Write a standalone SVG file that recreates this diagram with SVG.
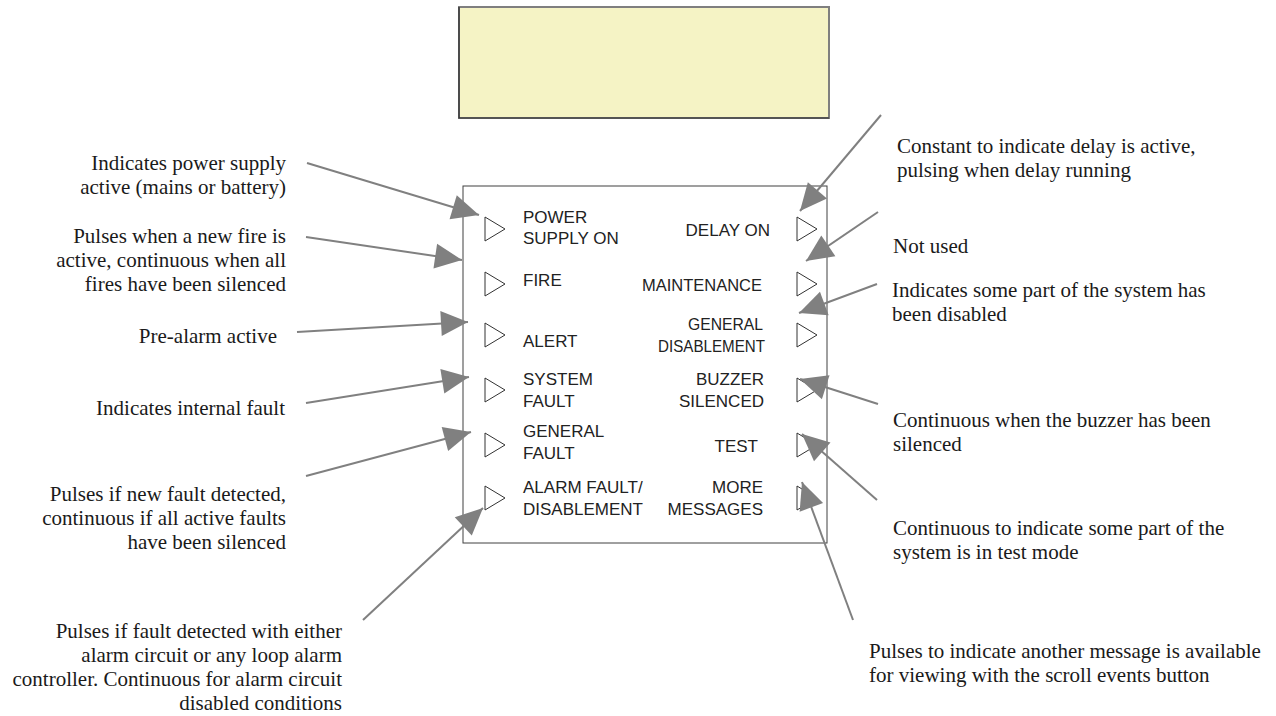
<svg xmlns="http://www.w3.org/2000/svg" width="1276" height="716" viewBox="0 0 1276 716">
  <style>
    .note { font-family: "Liberation Serif", "Times New Roman", serif; font-size: 21px; fill: #1a1a1a; }
    .note-r { text-anchor: end; }
    .lbl { font-family: "Liberation Sans", Arial, sans-serif; font-size: 17px; fill: #222; }
    .lbl-r { text-anchor: end; }
    .led { fill: #fff; stroke: #333; stroke-width: 1; }
    .lead { stroke: #808080; stroke-width: 2; fill: none; marker-end: url(#ah); }
  </style>
  <defs>
    <marker id="ah" markerUnits="userSpaceOnUse" markerWidth="32" markerHeight="28" viewBox="-30 -14 32 28" refX="0" refY="0" orient="auto">
      <path d="M0,0 L-27,-12.5 L-27,12.5 Z" fill="#808080"/>
    </marker>
  </defs>

  <rect width="1276" height="716" fill="#fff"/>

  <!-- display window -->
  <g id="display">
    <rect x="459" y="7" width="370" height="111" fill="#f5f3c5" stroke="#7f7f7f" stroke-width="2"/>
    <polyline points="459,7 459,118 829,118" fill="none" stroke="#2a2a2a" stroke-width="1.2"/>
  </g>

  <!-- indicator panel -->
  <g id="panel">
    <rect x="463" y="186" width="364" height="357" fill="#fff" stroke="#404040" stroke-width="1"/>
  </g>

  <!-- left-column indicators -->
  <g id="led-power-supply">
    <polygon class="led" points="485,217 505,229 485,241"/>
    <text class="lbl" x="523" y="223">POWER</text>
    <text class="lbl" x="523" y="244">SUPPLY ON</text>
  </g>
  <g id="led-fire">
    <polygon class="led" points="485,272 505,284 485,296"/>
    <text class="lbl" x="523" y="286">FIRE</text>
  </g>
  <g id="led-alert">
    <polygon class="led" points="485,323 505,335 485,347"/>
    <text class="lbl" x="523" y="347">ALERT</text>
  </g>
  <g id="led-system-fault">
    <polygon class="led" points="485,378 505,390 485,402"/>
    <text class="lbl" x="523" y="385">SYSTEM</text>
    <text class="lbl" x="523" y="407">FAULT</text>
  </g>
  <g id="led-general-fault">
    <polygon class="led" points="485,433 505,445 485,457"/>
    <text class="lbl" x="523" y="437">GENERAL</text>
    <text class="lbl" x="523" y="459">FAULT</text>
  </g>
  <g id="led-alarm-fault">
    <polygon class="led" points="485,486 505,498 485,510"/>
    <text class="lbl" x="523" y="493">ALARM FAULT/</text>
    <text class="lbl" x="523" y="515">DISABLEMENT</text>
  </g>

  <!-- right-column indicators -->
  <g id="led-delay-on">
    <polygon class="led" points="797,217 817,229 797,241"/>
    <text class="lbl lbl-r" x="770" y="236">DELAY ON</text>
  </g>
  <g id="led-maintenance">
    <polygon class="led" points="797,272 817,284 797,296"/>
    <text class="lbl lbl-r" x="762" y="291" textLength="120" lengthAdjust="spacingAndGlyphs">MAINTENANCE</text>
  </g>
  <g id="led-general-disablement">
    <polygon class="led" points="797,323 817,335 797,347"/>
    <text class="lbl lbl-r" x="763" y="330" textLength="75" lengthAdjust="spacingAndGlyphs">GENERAL</text>
    <text class="lbl lbl-r" x="765" y="352" textLength="107" lengthAdjust="spacingAndGlyphs">DISABLEMENT</text>
  </g>
  <g id="led-buzzer-silenced">
    <polygon class="led" points="797,378 817,390 797,402"/>
    <text class="lbl lbl-r" x="764" y="385">BUZZER</text>
    <text class="lbl lbl-r" x="764" y="407">SILENCED</text>
  </g>
  <g id="led-test">
    <polygon class="led" points="797,433 817,445 797,457"/>
    <text class="lbl lbl-r" x="758" y="452">TEST</text>
  </g>
  <g id="led-more-messages">
    <polygon class="led" points="797,486 817,498 797,510"/>
    <text class="lbl lbl-r" x="763" y="493">MORE</text>
    <text class="lbl lbl-r" x="763" y="515">MESSAGES</text>
  </g>

  <!-- leader arrows -->
  <g id="connectors">
    <line class="lead" x1="307" y1="163" x2="479" y2="215"/>
    <line class="lead" x1="306" y1="237" x2="462" y2="260"/>
    <line class="lead" x1="297" y1="332" x2="468" y2="322"/>
    <line class="lead" x1="306" y1="403" x2="469" y2="377"/>
    <line class="lead" x1="306" y1="476" x2="471" y2="432"/>
    <line class="lead" x1="363" y1="620" x2="483" y2="508"/>
    <line class="lead" x1="881" y1="115" x2="800" y2="211"/>
    <line class="lead" x1="878" y1="212" x2="806" y2="261"/>
    <line class="lead" x1="877" y1="284" x2="799" y2="313"/>
    <line class="lead" x1="878" y1="404" x2="800" y2="379"/>
    <line class="lead" x1="877" y1="500" x2="802" y2="434"/>
    <line class="lead" x1="853" y1="620" x2="802" y2="482"/>
  </g>

  <!-- descriptions, left side -->
  <g id="note-power-supply">
    <text class="note note-r" x="286" y="170">Indicates power supply</text>
    <text class="note note-r" x="286" y="194">active (mains or battery)</text>
  </g>
  <g id="note-fire">
    <text class="note note-r" x="286" y="243">Pulses when a new fire is</text>
    <text class="note note-r" x="286" y="267">active, continuous when all</text>
    <text class="note note-r" x="286" y="291">fires have been silenced</text>
  </g>
  <g id="note-alert">
    <text class="note note-r" x="277" y="343">Pre-alarm active</text>
  </g>
  <g id="note-system-fault">
    <text class="note note-r" x="285" y="415">Indicates internal fault</text>
  </g>
  <g id="note-general-fault">
    <text class="note note-r" x="286" y="501">Pulses if new fault detected,</text>
    <text class="note note-r" x="286" y="525">continuous if all active faults</text>
    <text class="note note-r" x="286" y="549">have been silenced</text>
  </g>
  <g id="note-alarm-fault">
    <text class="note note-r" x="342" y="638">Pulses if fault detected with either</text>
    <text class="note note-r" x="342" y="662">alarm circuit or any loop alarm</text>
    <text class="note note-r" x="342" y="686">controller. Continuous for alarm circuit</text>
    <text class="note note-r" x="342" y="710">disabled conditions</text>
  </g>

  <!-- descriptions, right side -->
  <g id="note-delay-on">
    <text class="note" x="897" y="153">Constant to indicate delay is active,</text>
    <text class="note" x="897" y="177">pulsing when delay running</text>
  </g>
  <g id="note-maintenance">
    <text class="note" x="893" y="253">Not used</text>
  </g>
  <g id="note-general-disablement">
    <text class="note" x="892" y="297">Indicates some part of the system has</text>
    <text class="note" x="892" y="321">been disabled</text>
  </g>
  <g id="note-buzzer-silenced">
    <text class="note" x="893" y="427">Continuous when the buzzer has been</text>
    <text class="note" x="893" y="451">silenced</text>
  </g>
  <g id="note-test">
    <text class="note" x="893" y="535">Continuous to indicate some part of the</text>
    <text class="note" x="893" y="559">system is in test mode</text>
  </g>
  <g id="note-more-messages">
    <text class="note" x="869" y="658">Pulses to indicate another message is available</text>
    <text class="note" x="869" y="682">for viewing with the scroll events button</text>
  </g>
</svg>
